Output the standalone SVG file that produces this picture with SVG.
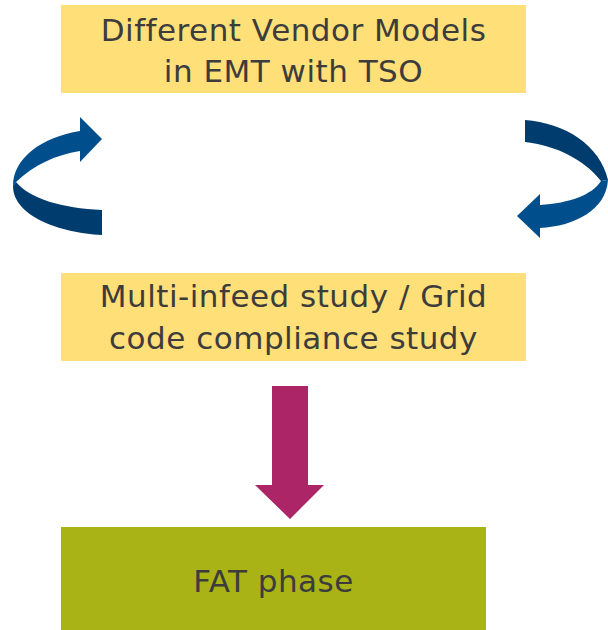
<svg xmlns="http://www.w3.org/2000/svg" width="608" height="630" viewBox="0 0 608 630">
<style>
.box{fill:#ffdf77}
.t{font-family:"DejaVu Sans","Noto Sans",sans-serif;font-size:31px;letter-spacing:0.5px;fill:#3c3c3c;text-anchor:middle}
.lt{fill:#004f8c}
.dk{fill:#003c6e}
</style>
<rect width="608" height="630" fill="#ffffff"/>
<g id="vendor-models">
<rect class="box" x="61" y="5" width="465" height="88"/>
<text class="t" x="293.5" y="41">Different Vendor Models</text>
<text class="t" x="293.5" y="82">in EMT with TSO</text>
</g>
<g id="multi-infeed">
<rect class="box" x="61" y="273" width="465" height="88"/>
<text class="t" x="293.5" y="307">Multi-infeed study / Grid</text>
<text class="t" x="293.5" y="349">code compliance study</text>
</g>
<g id="fat-phase">
<rect x="61" y="527" width="425" height="103" fill="#a9b315"/>
<text class="t" x="273.5" y="592">FAT phase</text>
</g>
<g id="connectors">
<g id="loop-left">
<path class="lt" d="M80,131 C42,137 13,158 13,186 L16,182 C34,165 55,155 80,151 Z"/>
<polygon class="lt" points="80,117 102,139 80,162"/>
<path class="dk" d="M13,186 C13,216 60,233 102,235 L102,210 C62,208 30,199 16,182 Z"/>
</g>
<g id="loop-right">
<path class="dk" d="M525,120 C565,123 600,145 608,180 L601,181 C585,160 555,145 525,142 Z"/>
<path class="lt" d="M608,180 C606,210 575,226 540,228 L540,205 C570,203 592,195 601,181 Z"/>
<polygon class="lt" points="540,194 517,216 540,238"/>
</g>
<polygon id="down-arrow" fill="#ab2567" points="272,386 308,386 308,485 324,485 290,519 255,485 272,485"/>
</g>
</svg>
